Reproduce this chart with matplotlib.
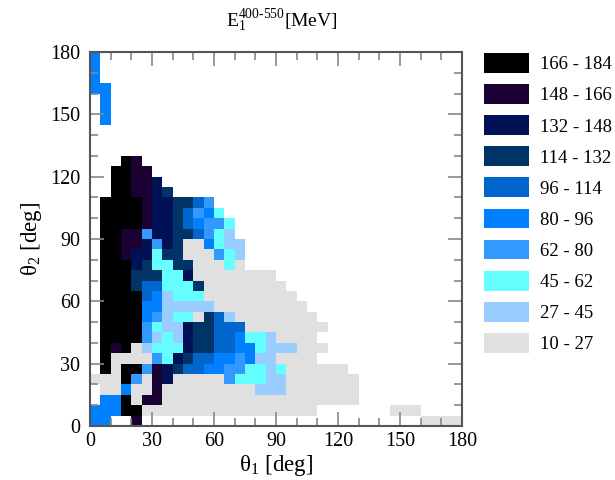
import numpy as np
import matplotlib
matplotlib.use("Agg")
import matplotlib.pyplot as plt
from matplotlib.colors import ListedColormap, BoundaryNorm
from matplotlib.patches import Patch
from matplotlib.ticker import MultipleLocator

plt.rcParams['font.family'] = ['Liberation Serif', 'DejaVu Serif']
plt.rcParams['mathtext.fontset'] = 'custom'
plt.rcParams['mathtext.rm'] = 'Liberation Serif'
plt.rcParams['mathtext.it'] = 'Liberation Serif:italic'

# energy bins (MeV) and their colours, lowest first
bin_labels = ["10 - 27", "27 - 45", "45 - 62", "62 - 80", "80 - 96",
              "96 - 114", "114 - 132", "132 - 148", "148 - 166", "166 - 184"]
bin_colors = ["#e0e0e0", "#99ccff", "#66ffff", "#3399ff", "#0080ff",
              "#0066cc", "#003366", "#001155", "#1a0033", "#000000"]

# 5 deg cells, theta1 along the string, theta2 from 180 (top) down to 0
# digit = energy bin index, '.' = no entry
grid_rows = [
    "4",                            # 175-180
    "4",
    "4",
    "44",
    ".4",
    ".4",
    ".4",                           # 145-150
    "",
    "",
    "",
    "...98",                        # 125-130
    "..9988",
    "..99887",
    "..998876",
    ".99998776653",
    ".999987765342",                # 100-105
    ".9999877654332",
    ".9988377665321",
    ".99887376004211",
    ".99877266000321",
    ".99976226600020",              # 75-80
    ".999666227" + "00000000",
    ".9996552226" + "00000000",
    ".9999541222" + "000000000",
    ".99994411111" + "000000000",
    ".9999431220651" + "00000000",  # 50-55
    ".99993211766555" + "00000000",
    ".999931217665542210000",
    ".98901222766554421110" + "00",
    ".9000032765544341100" + "00",
    ".9099387655443322120000" + "00",  # 25-30
    "0009308700000322211" + "0000000",
    ".004008" + "000000000" + "111" + "0000000",
    ".4490880000000000000000000",
    "44499" + "0" * 17 + "......." + "000",
    "44..8" + "." * 27 + "0000",    # 0-5
]

theta_edges = np.arange(0, 185, 5)

ncell = len(theta_edges) - 1
rows = [r.ljust(ncell, ".")[:ncell] for r in grid_rows]
z = np.array([[np.nan if ch == "." else float(ch) for ch in r] for r in rows])
z = np.ma.masked_invalid(z[::-1])

cmap = ListedColormap(bin_colors)
norm = BoundaryNorm(np.arange(-0.5, 10.5, 1), cmap.N)

fig = plt.figure(figsize=(6.15, 4.8), dpi=100)
ax = fig.add_axes([0.1463, 0.1125, 0.6049, 0.7792])
ax.pcolormesh(theta_edges, theta_edges, z, cmap=cmap, norm=norm)

ax.set_xlim(0, 180)
ax.set_ylim(0, 180)
ax.xaxis.set_major_locator(MultipleLocator(30))
ax.yaxis.set_major_locator(MultipleLocator(30))
ax.xaxis.set_minor_locator(MultipleLocator(10))
ax.yaxis.set_minor_locator(MultipleLocator(10))
ax.tick_params(which='both', direction='in', top=True, right=True,
               color='#888888', labelsize=14.5)
ax.tick_params(which='major', length=10, width=1.2)
ax.tick_params(which='minor', length=5.5, width=1.2)
ax.tick_params(axis='x', pad=4)
ax.tick_params(axis='y', pad=7)
for s in ax.spines.values():
    s.set_color('#555555')
    s.set_linewidth(1.5)

ax.set_xlabel(r'$\mathrm{\theta}_1$ [deg]', fontsize=16.5, labelpad=2)
ax.set_ylabel(r'$\mathrm{\theta}_2$ [deg]', fontsize=16.5, labelpad=4)
ax.set_title(r'E$_1^{400\text{-}550}$[MeV]', fontsize=14, pad=18, x=0.515)

handles = [Patch(facecolor=c, edgecolor='none') for c in bin_colors[::-1]]
fig.legend(handles, bin_labels[::-1], loc='upper left',
           bbox_to_anchor=(0.775, 0.905), frameon=False, fontsize=13.5,
           handlelength=2.4, handleheight=1.25, labelspacing=0.58,
           handletextpad=0.6, borderaxespad=0)

fig.savefig("out.png", dpi=100)
